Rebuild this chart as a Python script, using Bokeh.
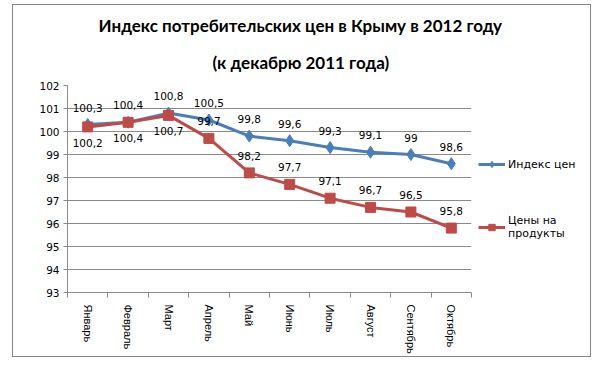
from bokeh.plotting import figure
from bokeh.models import (Title, Legend, LegendItem, FixedTicker, Range1d,
                          ColumnDataSource)
from bokeh.embed import file_html
from bokeh.resources import INLINE

months = ["Январь", "Февраль", "Март", "Апрель", "Май", "Июнь", "Июль",
          "Август", "Сентябрь", "Октябрь"]
cpi = [100.3, 100.4, 100.8, 100.5, 99.8, 99.6, 99.3, 99.1, 99.0, 98.6]
food = [100.2, 100.4, 100.7, 99.7, 98.2, 97.7, 97.1, 96.7, 96.5, 95.8]
y_ticks = [93, 94, 95, 96, 97, 98, 99, 100, 101, 102]
series_names = ["Индекс цен", "Цены на\nпродукты"]
title_lines = ["Индекс потребительских цен в Крыму в 2012 году",
               "(к декабрю 2011 года)"]

BLUE = "#4A7EBB"
RED = "#BE4B48"
FONT = "DejaVu Sans"

def fmt(v):
    return f"{v:g}".replace(".", ",")

xs = [i + 0.5 for i in range(len(months))]

p = figure(frame_width=404, frame_height=207, output_backend="svg",
           toolbar_location=None, title=None,
           x_range=Range1d(0, len(months)), y_range=Range1d(93, 102),
           min_border_left=54, min_border_right=119, min_border_top=80,
           min_border_bottom=64,
           styles={"border": "1px solid #868686", "margin-left": "12px",
                   "margin-top": "4px", "width": "579px", "height": "353px",
                   "box-sizing": "border-box", "overflow": "hidden"})
p.outline_line_color = None
p.xgrid.grid_line_color = None
p.ygrid.grid_line_color = "#8a8a8a"
p.ygrid.ticker = FixedTicker(ticks=y_ticks)

p.yaxis.ticker = FixedTicker(ticks=y_ticks)
p.yaxis.axis_line_color = "#8a8a8a"
p.yaxis.major_tick_line_color = "#8a8a8a"
p.yaxis.major_tick_in = 0
p.yaxis.major_tick_out = 4
p.yaxis.minor_tick_line_color = None
p.yaxis.major_label_text_font = FONT
p.yaxis.major_label_text_font_size = "10.5px"
p.yaxis.major_label_text_color = "#000000"
p.yaxis.major_label_standoff = 4

p.xaxis.ticker = FixedTicker(ticks=xs, minor_ticks=list(range(len(months) + 1)))
p.xaxis.major_label_overrides = {x: m for x, m in zip(xs, months)}
p.xaxis.major_tick_line_color = None
p.xaxis.major_tick_in = 0
p.xaxis.major_tick_out = 0
p.xaxis.minor_tick_line_color = "#8a8a8a"
p.xaxis.minor_tick_in = 0
p.xaxis.minor_tick_out = 5
p.xaxis.axis_line_color = "#8a8a8a"
p.xaxis.major_label_orientation = "vertical"
p.xaxis.major_label_text_font = "Liberation Sans"
p.xaxis.major_label_text_font_size = "11px"
p.xaxis.major_label_text_color = "#000000"
p.xaxis.major_label_standoff = 7

below_count = 3
src1 = ColumnDataSource(dict(x=xs, y=cpi, t=[fmt(v) for v in cpi],
                             off=[-17] * len(cpi)))
src2 = ColumnDataSource(dict(x=xs, y=food, t=[fmt(v) for v in food],
                             off=[16] * below_count + [-17] * (len(food) - below_count)))

l1 = p.line("x", "y", source=src1, line_color=BLUE, line_width=3)
m1 = p.scatter("x", "y", source=src1, marker="diamond", size=12,
               fill_color=BLUE, line_color=BLUE)
l2 = p.line("x", "y", source=src2, line_color=RED, line_width=3)
m2 = p.scatter("x", "y", source=src2, marker="square", size=10,
               fill_color=RED, line_color=RED)

for s in (src1, src2):
    p.text("x", "y", text="t", source=s, y_offset="off", text_align="center",
           text_baseline="middle", text_font_size="10.5px",
           text_font={"value": FONT}, text_color="#000000")

legend = Legend(items=[LegendItem(label=series_names[0], renderers=[l1, m1]),
                       LegendItem(label=series_names[1], renderers=[l2, m2])],
                location=(7, 52), border_line_alpha=0,
                background_fill_alpha=0,
                glyph_width=27, glyph_height=16, label_standoff=3, spacing=42,
                margin=0, padding=0, label_text_font=FONT,
                label_text_font_size="11px", label_text_color="#000000")
p.add_layout(legend, "right")

# second line first (closest to the plot area)
for txt, off, so, va in zip(reversed(title_lines), [145, 31], [21, 12],
                            ["top", "bottom"]):
    p.add_layout(Title(text=txt, align="left", offset=off, standoff=so,
                       vertical_align=va,
                       text_font="Lato", text_font_style="bold",
                       text_font_size="17px", text_color="#000000"), "above")

open("out.html", "w").write(file_html(p, INLINE))
